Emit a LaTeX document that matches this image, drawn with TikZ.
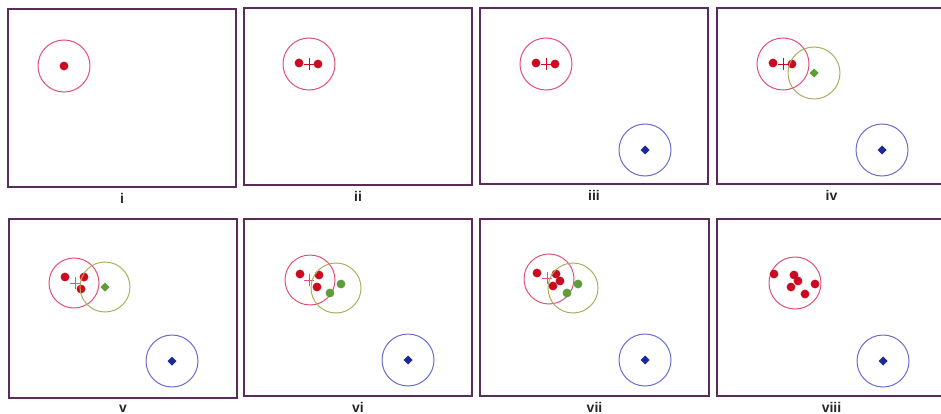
\documentclass[tikz,border=0pt]{standalone}
\usepackage{fontspec}
\setsansfont{Liberation Sans}
\usepackage{tikz}
\definecolor{framecol}{HTML}{5A2C5C}
\definecolor{redring}{HTML}{E2507A}
\definecolor{reddot}{HTML}{CC0A22}
\definecolor{greenring}{HTML}{ACAE5E}
\definecolor{greendot}{HTML}{5E9C3C}
\definecolor{bluering}{HTML}{6C6CD0}
\definecolor{bluedot}{HTML}{1A2A96}
\tikzset{
  panelbox/.style = {draw=framecol,line width=1.4pt},
  panellbl/.style = {font=\sffamily\bfseries\fontsize{14}{14}\selectfont,text=black!85,inner sep=0pt},
  ring/.style     = {line width=1pt},
  tick/.style     = {line width=0.6pt}
}
% box from (#1,#2) to (#3,#4), label #6 named #5
\newcommand{\panel}[6]{%
  \draw[panelbox] (#1,#2) rectangle (#3,#4);
  \node[panellbl] (#5) at ({(#1+#3)/2},#4+11) {#6};
}
\newcommand{\dotat}[3]{\fill[#3] (#1,#2) circle[radius=4.4pt];}
\newcommand{\gemat}[3]{\fill[#3] (#1,#2-4.5) -- (#1+4.5,#2) -- (#1,#2+4.5) -- (#1-4.5,#2) -- cycle;}
\newcommand{\crossat}[3]{\draw[tick,#3] (#1-5,#2) -- (#1+5,#2) (#1,#2-6) -- (#1,#2+6);}

\begin{document}
\begin{tikzpicture}[x=1pt,y=-1pt]
  \useasboundingbox (0,0) rectangle (941,414);
  \clip (0,0) rectangle (941,414);
  % top row
  \panel{8}{9}{236}{187}{lbl1}{i}
  \panel{244}{8}{472}{185}{lbl2}{ii}
  \panel{480}{8}{708}{184}{lbl3}{iii}
  \panel{717}{8}{946}{184}{lbl4}{iv}
  % bottom row
  \panel{9}{219}{237}{398}{lbl5}{v}
  \panel{244}{219}{472}{396}{lbl6}{vi}
  \panel{480}{219}{709}{396}{lbl7}{vii}
  \panel{717}{219}{946}{396}{lbl8}{viii}

  % i
  \draw[ring,redring] (64,66) circle[radius=26pt];
  \dotat{64}{66}{reddot}
  % ii
  \draw[ring,redring] (309,64) circle[radius=26pt];
  \crossat{309}{64}{reddot}
  \dotat{299}{63}{reddot} \dotat{318}{64}{reddot}
  % iii
  \draw[ring,redring] (546,64) circle[radius=26pt];
  \crossat{546}{64}{reddot}
  \dotat{536}{63}{reddot} \dotat{555}{64}{reddot}
  \draw[ring,bluering] (645,150) circle[radius=26pt];
  \gemat{645}{150}{bluedot}
  % iv
  \draw[ring,redring] (783,64) circle[radius=26pt];
  \crossat{783}{64}{reddot}
  \dotat{773}{63}{reddot} \dotat{792}{64}{reddot}
  \draw[ring,greenring] (814,73) circle[radius=26pt];
  \gemat{814}{73}{greendot}
  \draw[ring,bluering] (882,150) circle[radius=26pt];
  \gemat{882}{150}{bluedot}
  % v
  \draw[ring,redring] (74,283) circle[radius=25pt];
  \crossat{75}{283}{redring}
  \dotat{65}{277}{reddot} \dotat{84}{277}{reddot} \dotat{81}{289}{reddot}
  \draw[ring,greenring] (105,287) circle[radius=25pt];
  \gemat{105}{287}{greendot}
  \draw[ring,bluering] (172,361) circle[radius=26pt];
  \gemat{172}{361}{bluedot}
  % vi
  \draw[ring,redring] (310,280) circle[radius=25pt];
  \crossat{309}{280}{redring}
  \dotat{300}{274}{reddot} \dotat{319}{275}{reddot} \dotat{317}{287}{reddot}
  \draw[ring,greenring] (336,288) circle[radius=25pt];
  \dotat{330}{293}{greendot} \dotat{341}{284}{greendot}
  \draw[ring,bluering] (408,360) circle[radius=26pt];
  \gemat{408}{360}{bluedot}
  % vii
  \draw[ring,redring] (549,279) circle[radius=25pt];
  \crossat{547}{278}{redring}
  \dotat{537}{273}{reddot} \dotat{556}{274}{reddot} \dotat{560}{281}{reddot} \dotat{553}{286}{reddot}
  \draw[ring,greenring] (573,288) circle[radius=25pt];
  \dotat{567}{293}{greendot} \dotat{578}{284}{greendot}
  \draw[ring,bluering] (645,360) circle[radius=26pt];
  \gemat{645}{360}{bluedot}
  % viii
  \draw[ring,redring] (795,283) circle[radius=26pt];
  \dotat{774}{274}{reddot} \dotat{794}{275}{reddot} \dotat{798}{281}{reddot}
  \dotat{791}{287}{reddot} \dotat{805}{294}{reddot} \dotat{815}{284}{reddot}
  \draw[ring,bluering] (883,361) circle[radius=26pt];
  \gemat{883}{361}{bluedot}
\end{tikzpicture}
\end{document}
